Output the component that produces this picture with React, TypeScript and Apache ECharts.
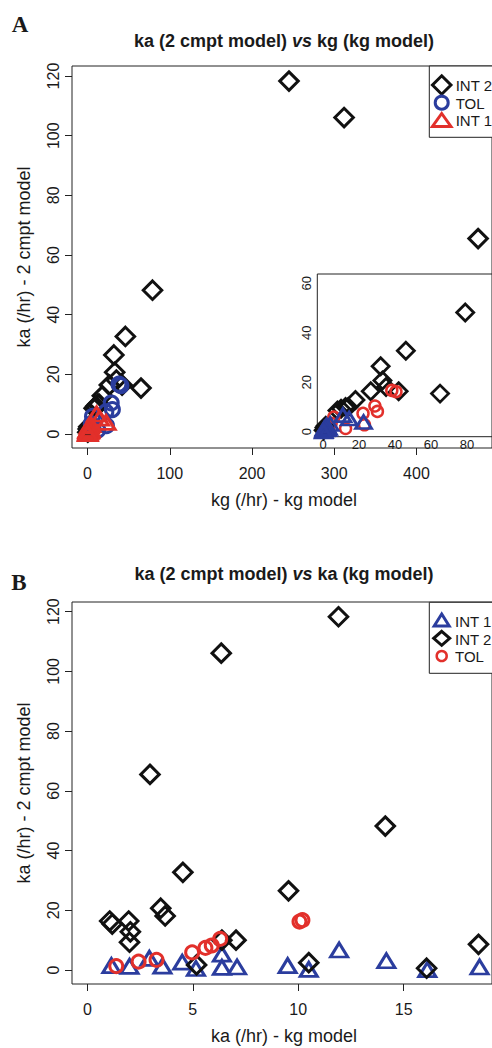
import React, { useEffect, useRef } from "react";
import * as echarts from "echarts";

// ---------- tick values ----------
const aXTicks = [0, 100, 200, 300, 400];
const aYTicks = [0, 20, 40, 60, 80, 100, 120];
const insetXTicks = [0, 20, 40, 60, 80];
const insetYTicks = [0, 20, 40, 60];
const bXTicks = [0, 5, 10, 15];
const bYTicks = [0, 20, 40, 60, 80, 100, 120];

// ---------- panel A: kg (kg model) vs ka (2 cmpt model) ----------
const aInt2X = [245, 312, 475, 79, 46, 32, 33, 35, 26.5, 42, 65, 18, 12.5, 14, 10, 8, 1.5, 0.8, 0.3];
const aInt2Y = [118.3, 106.1, 65.5, 48.2, 32.7, 26.5, 20.7, 18.1, 16.4, 16.4, 15.4, 12.8, 10.0, 10.0, 9.3, 8.6, 2.45, 1.7, 0.6];
const aTolX = [38.2, 40.5, 28.8, 30.2, 22.2, 6.0, 4.5, 23.0, 12.5];
const aTolY = [16.7, 16.2, 10.4, 8.2, 7.4, 5.9, 3.4, 2.8, 1.3];
const aInt1X = [11.0, 14.5, 22.5, 4.0, 2.0, 1.0, 3.0, 1.5, 0.5, 2.5, 0.8, 1.2, 0.3, 0.6, 0.2];
const aInt1Y = [6.7, 5.3, 3.9, 3.1, 2.6, 1.5, 1.5, 1.3, 1.2, 1.0, 1.0, 0.9, 0.5, 0.2, 0.1];

// ---------- panel B: ka (kg model) vs ka (2 cmpt model) ----------
const bInt1X = [1.14, 2.0, 2.94, 3.56, 4.5, 5.15, 6.38, 6.38, 7.1, 9.5, 10.5, 11.94, 14.18, 16.12, 18.6];
const bInt1Y = [1.5, 1.2, 3.9, 1.3, 2.6, 0.5, 5.3, 0.9, 1.0, 1.5, 0.2, 6.7, 3.1, 0.1, 1.0];
const bInt2X = [11.91, 6.35, 2.97, 14.13, 4.53, 9.54, 3.48, 3.69, 1.06, 1.96, 1.18, 2.04, 6.38, 7.05, 2.0, 18.55, 10.5, 5.18, 16.09];
const bInt2Y = [118.3, 106.1, 65.5, 48.2, 32.7, 26.5, 20.7, 18.1, 16.4, 16.4, 15.4, 12.8, 10.0, 10.0, 9.3, 8.6, 2.45, 1.7, 0.6];
const bTolX = [1.37, 2.43, 3.28, 4.97, 5.6, 5.9, 6.3, 10.06, 10.2];
const bTolY = [1.3, 2.8, 3.4, 5.9, 7.4, 8.2, 10.4, 16.2, 16.7];

const BLACK = "#111111";
const BLUE = "#2b3d9e";
const RED = "#e2302b";
const TXT = "#1a1a1a";
const SANS = "'Liberation Sans', Arial, sans-serif";
const SERIF = "'Liberation Serif', 'Times New Roman', serif";

const pairs = (xs: number[], ys: number[]) => xs.map((x, i) => [x, ys[i]]);

function xAx(gridIndex: number, min: number, max: number, ticks: number[], opts: any = {}) {
  return {
    type: "value",
    gridIndex,
    min,
    max,
    axisLine: { show: false, onZero: false },
    splitLine: { show: false },
    axisTick: { show: opts.noTick ? false : true, length: 7, customValues: ticks, lineStyle: { color: "#222", width: 1 } },
    axisLabel: {
      customValues: ticks,
      margin: opts.margin ?? 17,
      fontSize: opts.fontSize ?? 16,
      color: TXT,
      fontFamily: SANS,
    },
  };
}

function yAx(gridIndex: number, min: number, max: number, ticks: number[], opts: any = {}) {
  return {
    type: "value",
    gridIndex,
    min,
    max,
    axisLine: { show: false, onZero: false },
    splitLine: { show: false },
    axisTick: { show: opts.noTick ? false : true, length: 7, customValues: ticks, lineStyle: { color: "#222", width: 1 } },
    axisLabel: {
      customValues: ticks,
      rotate: 90,
      margin: opts.margin ?? 11,
      fontSize: opts.fontSize ?? 16,
      color: TXT,
      fontFamily: SANS,
    },
  };
}

function sc(name: string, data: number[][], axis: number, symbol: string, size: any, color: string, bw: number) {
  return {
    type: "scatter",
    name,
    xAxisIndex: axis,
    yAxisIndex: axis,
    data,
    symbol,
    symbolSize: size,
    itemStyle: { color: "rgba(0,0,0,0)", borderColor: color, borderWidth: bw, opacity: 1 },
    emphasis: { disabled: true },
  };
}

function diamondPts(cx: number, cy: number, w: number, h: number) {
  return [[cx, cy - h / 2], [cx + w / 2, cy], [cx, cy + h / 2], [cx - w / 2, cy]];
}
function trianglePts(cx: number, cy: number, w: number, h: number) {
  return [[cx, cy - h / 2], [cx + w / 2, cy + h / 2], [cx - w / 2, cy + h / 2]];
}

function txt(text: string, x: number, y: number, size: number, opts: any = {}) {
  return {
    type: "text",
    x,
    y,
    rotation: opts.rotation ?? 0,
    z: 100,
    style: {
      text,
      x: 0,
      y: 0,
      fontSize: size,
      fontFamily: opts.family ?? SANS,
      fontWeight: opts.weight ?? "normal",
      fill: TXT,
      align: opts.align ?? "center",
      verticalAlign: "middle",
      rich: opts.rich,
    },
  };
}

function titleRich(text: string, x: number, y: number) {
  const base = { fontSize: 18, fontWeight: "bold", fontFamily: SANS, fill: TXT };
  return txt(text, x, y, 18, {
    weight: "bold",
    rich: { b: { ...base }, i: { ...base, fontStyle: "italic" } },
  });
}

export default function App() {
  const ref = useRef<HTMLDivElement>(null);
  useEffect(() => {
    if (!ref.current) return;
    const chart = echarts.init(ref.current, undefined, { renderer: "svg" });

    const gridBase = { show: true, borderColor: "#222", borderWidth: 1, backgroundColor: "#fff" };

    const graphic: any[] = [
      // panel letters
      txt("A", 20, 24.5, 23, { family: SERIF, weight: "bold" }),
      txt("B", 19, 582, 23, { family: SERIF, weight: "bold" }),
      // titles
      titleRich("{b|ka (2 cmpt model) }{i|vs}{b| kg (kg model)}", 284, 41.3),
      titleRich("{b|ka (2 cmpt model) }{i|vs}{b| ka (kg model)}", 284, 574.2),
      // axis names
      txt("kg (/hr) - kg model", 284, 500, 18),
      txt("ka (/hr) - 2 cmpt model", 24, 257, 18, { rotation: Math.PI / 2 }),
      txt("ka (/hr) - kg model", 284, 1036, 18),
      txt("ka (/hr) - 2 cmpt model", 24, 793, 18, { rotation: Math.PI / 2 }),
      // legend A
      { type: "rect", z: 90, shape: { x: 429.3, y: 66, width: 100, height: 71.3 }, style: { fill: "#fff", stroke: "#222", lineWidth: 1 } },
      { type: "polygon", z: 95, shape: { points: diamondPts(441.7, 85, 18.5, 18.5) }, style: { fill: "none", stroke: BLACK, lineWidth: 3 } },
      { type: "circle", z: 95, shape: { cx: 441.7, cy: 102.7, r: 6.5 }, style: { fill: "none", stroke: BLUE, lineWidth: 3 } },
      { type: "polygon", z: 95, shape: { points: trianglePts(441.7, 120, 18.5, 13) }, style: { fill: "none", stroke: RED, lineWidth: 3 } },
      txt("INT 2", 455.7, 85.8, 15, { align: "left" }),
      txt("TOL", 455.7, 103, 15, { align: "left" }),
      txt("INT 1", 455.7, 120, 15, { align: "left" }),
      // legend B
      { type: "rect", z: 90, shape: { x: 429.3, y: 602.3, width: 100, height: 71 }, style: { fill: "#fff", stroke: "#222", lineWidth: 1 } },
      { type: "polygon", z: 95, shape: { points: trianglePts(441.7, 620, 15, 12) }, style: { fill: "none", stroke: BLUE, lineWidth: 3 } },
      { type: "polygon", z: 95, shape: { points: diamondPts(441.7, 638.3, 16, 14) }, style: { fill: "none", stroke: BLACK, lineWidth: 3 } },
      { type: "circle", z: 95, shape: { cx: 441.7, cy: 656, r: 5 }, style: { fill: "none", stroke: RED, lineWidth: 2.5 } },
      txt("INT 1", 455, 621, 15, { align: "left" }),
      txt("INT 2", 455, 639, 15, { align: "left" }),
      txt("TOL", 455, 656.7, 15, { align: "left" }),
    ];

    const option: any = {
      animation: false,
      backgroundColor: "#fff",
      grid: [
        { ...gridBase, left: 72, top: 66, width: 424, height: 382 },
        { ...gridBase, left: 317.3, top: 274, width: 182, height: 162.7 },
        { ...gridBase, left: 72, top: 602, width: 424, height: 382 },
      ],
      xAxis: [
        xAx(0, -18.92, 491.9, aXTicks),
        xAx(1, -3.2, 93.87, insetXTicks, { noTick: true, margin: 1, fontSize: 13 }),
        xAx(2, -0.728, 19.19, bXTicks),
      ],
      yAxis: [
        yAx(0, -4.693, 123.37, aYTicks),
        yAx(1, -2.02, 63.77, insetYTicks, { noTick: true, margin: 4, fontSize: 13 }),
        yAx(2, -4.689, 123.24, bYTicks),
      ],
      series: [
        // panel A main
        sc("INT 2", pairs(aInt2X, aInt2Y), 0, "diamond", 18.5, BLACK, 3),
        sc("TOL", pairs(aTolX, aTolY), 0, "circle", 14, BLUE, 3),
        sc("INT 1", pairs(aInt1X, aInt1Y), 0, "triangle", [18, 14], RED, 3),
        // panel A inset
        sc("INT 2 (inset)", pairs(aInt2X, aInt2Y), 1, "diamond", 17, BLACK, 2.8),
        sc("TOL (inset)", pairs(aTolX, aTolY), 1, "circle", 11, RED, 2.5),
        sc("INT 1 (inset)", pairs(aInt1X, aInt1Y), 1, "triangle", [16, 13], BLUE, 2.8),
        // panel B
        sc("INT 1 (B)", pairs(bInt1X, bInt1Y), 2, "triangle", [17, 14], BLUE, 3),
        sc("INT 2 (B)", pairs(bInt2X, bInt2Y), 2, "diamond", 18.5, BLACK, 3),
        sc("TOL (B)", pairs(bTolX, bTolY), 2, "circle", 13, RED, 3),
      ],
      graphic,
    };
    chart.setOption(option);
    return () => chart.dispose();
  }, []);

  return (
    <div
      ref={ref}
      style={{ position: "absolute", left: 0, top: 0, width: 492, height: 1048, background: "#fff" }}
    />
  );
}
